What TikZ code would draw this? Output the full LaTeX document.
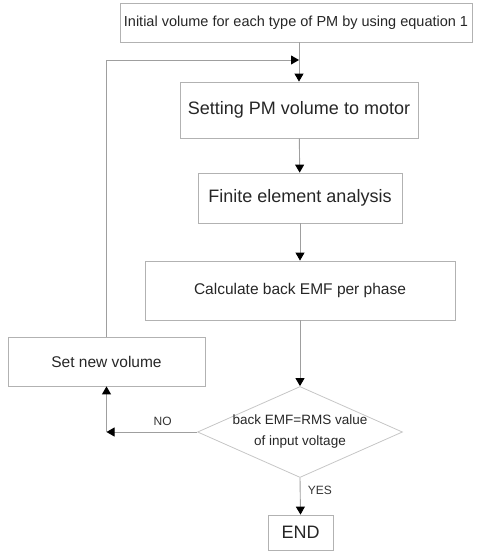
\documentclass[tikz,border=0pt]{standalone}
\usepackage{fontspec}
\setmainfont{Liberation Sans}
\usepackage{tikz}
\usetikzlibrary{arrows.meta, shapes.geometric}

\begin{document}
\begin{tikzpicture}[x=1pt,y=-1pt,
    box/.style={draw=gray!60, line width=0.8pt, inner sep=0pt, text=black!85},
    decision/.style={diamond, draw=gray!45, line width=0.8pt, inner xsep=-12pt, inner ysep=-3pt, aspect=2.25, text=black!85, align=center},
    arr/.style={draw=gray!75, line width=0.9pt, -{Triangle[black, length=8pt, width=9pt]}},
    lbl/.style={font=\fontsize{12}{12}\selectfont, text=black!80}]
      \useasboundingbox (0,0) rectangle (476,553);
      \node[box, minimum width=352, minimum height=39, font=\fontsize{14.5}{16}\selectfont] (init) at (296,22.5) {Initial volume for each type of PM by using equation 1};
      \node[box, minimum width=238, minimum height=56, font=\fontsize{18}{20}\selectfont] (setpm) at (299,110) {Setting PM volume to motor};
      \node[box, minimum width=204, minimum height=50, font=\fontsize{18}{20}\selectfont] (fea) at (300,198) {Finite element analysis};
      \node[box, minimum width=310, minimum height=59, font=\fontsize{15.5}{17}\selectfont] (calc) at (300,290.5) {Calculate back EMF per phase};
      \node[box, minimum width=197, minimum height=49, font=\fontsize{15.5}{17}\selectfont] (setnew) at (106.5,361.5) {Set new volume};
      \node[decision, minimum width=205, minimum height=91, font=\fontsize{13.5}{21}\selectfont] (check) at (300,432) {back EMF=RMS value\\of input voltage};
      \node[box, minimum width=65, minimum height=35, font=\fontsize{18}{20}\selectfont] (endn) at (300.5,532.5) {END};
      \coordinate (loop) at (setnew.north |- 0,60);
      \coordinate (merge) at (init.south -| setpm.north);
      \coordinate (nocorner) at (setnew.south |- check.west);
      % main chain
      \draw[arr] (merge) -- (setpm.north);
      \draw[arr] (setpm) -- (fea);
      \draw[arr] (fea) -- (calc);
      \draw[arr] (calc) -- (check);
      \draw[arr] (check.south) -- (endn.north) node[lbl, pos=0.35, right=4pt] {YES};
      % NO branch and feedback
      \draw[arr] (check.west) -- (nocorner) node[lbl, pos=0.38, above=3pt] {NO};
      \draw[arr] (nocorner) -- (setnew.south);
      \draw[draw=gray!75, line width=0.9pt] (setnew.north) -- (loop);
      \draw[arr] (loop) -- (loop -| setpm.north);
\end{tikzpicture}
\end{document}
